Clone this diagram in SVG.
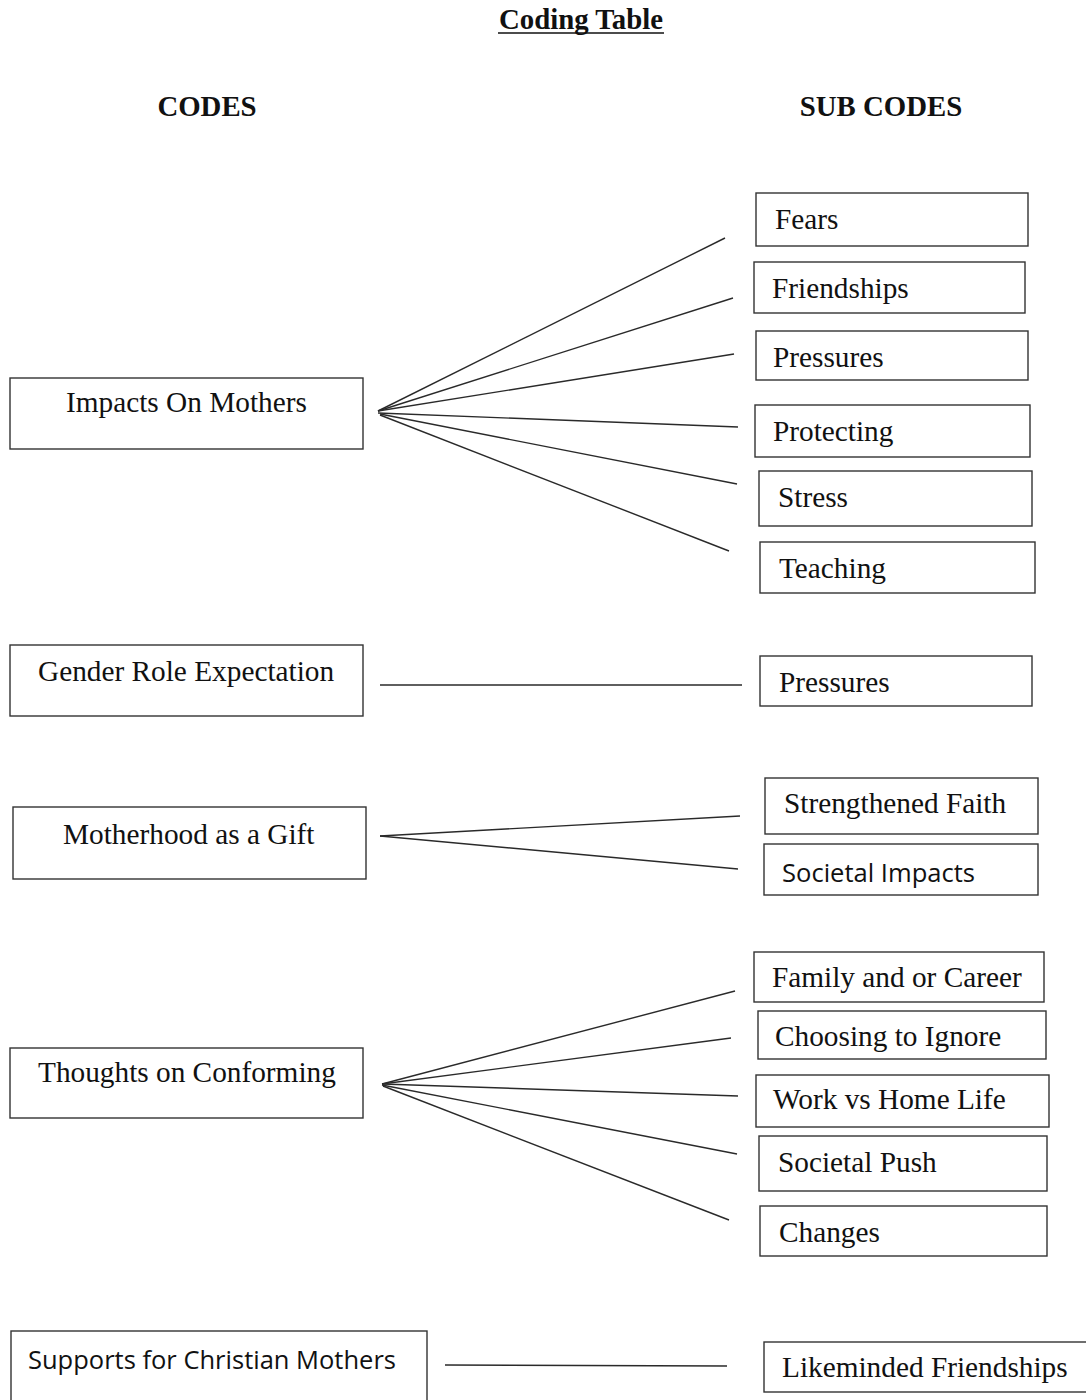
<svg xmlns="http://www.w3.org/2000/svg" width="1086" height="1400" viewBox="0 0 1086 1400">
<style>
.b{fill:#fff;stroke:#333;stroke-width:1.4}
.t{font-family:"Liberation Serif","Times New Roman",serif;font-size:29.3px;fill:#111}
.c{font-family:"Open Sans","Liberation Sans",sans-serif;font-size:25px;fill:#111}
.h{font-family:"Liberation Serif","Times New Roman",serif;font-size:28.8px;font-weight:bold;fill:#111}
#edges line{stroke:#2a2a2a;stroke-width:1.4}
</style>
<rect width="1086" height="1400" fill="#fff"/>
<text class="h" x="581" y="29" text-anchor="middle">Coding Table</text>
<line x1="498" y1="33" x2="664" y2="33" stroke="#111" stroke-width="1.6"/>
<text class="h" x="207" y="116" text-anchor="middle">CODES</text>
<text class="h" x="881" y="116" text-anchor="middle">SUB CODES</text>
<g id="edges">
<line x1="378" y1="411" x2="725" y2="238"/>
<line x1="378" y1="411" x2="733" y2="298"/>
<line x1="378" y1="411" x2="734" y2="354"/>
<line x1="378" y1="413" x2="738" y2="427"/>
<line x1="380" y1="414" x2="737" y2="484"/>
<line x1="380" y1="415" x2="729" y2="551"/>
<line x1="380" y1="685" x2="742" y2="685"/>
<line x1="380" y1="836" x2="740" y2="816"/>
<line x1="380" y1="836" x2="738" y2="869"/>
<line x1="382" y1="1084" x2="735" y2="991"/>
<line x1="382" y1="1084" x2="731" y2="1038"/>
<line x1="382" y1="1084" x2="738" y2="1096"/>
<line x1="382" y1="1085" x2="737" y2="1154"/>
<line x1="383" y1="1086" x2="729" y2="1220"/>
<line x1="445" y1="1365" x2="727" y2="1366"/>
</g>
<g id="n-impacts"><rect class="b" x="10" y="378" width="353" height="71"/><text class="t" x="66" y="412">Impacts On Mothers</text></g>
<g id="n-gender"><rect class="b" x="10" y="645" width="353" height="71"/><text class="t" x="38" y="681">Gender Role Expectation</text></g>
<g id="n-motherhood"><rect class="b" x="13" y="807" width="353" height="72"/><text class="t" x="63" y="844">Motherhood as a Gift</text></g>
<g id="n-thoughts"><rect class="b" x="10" y="1048" width="353" height="70"/><text class="t" x="38" y="1082">Thoughts on Conforming</text></g>
<g id="n-supports"><rect class="b" x="11" y="1331" width="416" height="90"/><text class="c" x="28" y="1369" textLength="368" lengthAdjust="spacingAndGlyphs">Supports for Christian Mothers</text></g>
<g id="s-fears"><rect class="b" x="756" y="193" width="272" height="53"/><text class="t" x="775" y="229">Fears</text></g>
<g id="s-friendships"><rect class="b" x="754" y="262" width="271" height="51"/><text class="t" x="772" y="298">Friendships</text></g>
<g id="s-pressures1"><rect class="b" x="756" y="331" width="272" height="49"/><text class="t" x="773" y="367">Pressures</text></g>
<g id="s-protecting"><rect class="b" x="755" y="405" width="275" height="52"/><text class="t" x="773" y="441">Protecting</text></g>
<g id="s-stress"><rect class="b" x="759" y="471" width="273" height="55"/><text class="t" x="778" y="507">Stress</text></g>
<g id="s-teaching"><rect class="b" x="760" y="542" width="275" height="51"/><text class="t" x="779" y="578">Teaching</text></g>
<g id="s-pressures2"><rect class="b" x="760" y="656" width="272" height="50"/><text class="t" x="779" y="692">Pressures</text></g>
<g id="s-faith"><rect class="b" x="765" y="778" width="273" height="56"/><text class="t" x="784" y="813">Strengthened Faith</text></g>
<g id="s-societal"><rect class="b" x="764" y="844" width="274" height="51"/><text class="c" x="782" y="882" textLength="193" lengthAdjust="spacingAndGlyphs">Societal Impacts</text></g>
<g id="s-family"><rect class="b" x="754" y="952" width="290" height="50"/><text class="t" x="772" y="987">Family and or Career</text></g>
<g id="s-choosing"><rect class="b" x="758" y="1011" width="288" height="48"/><text class="t" x="775" y="1046">Choosing to Ignore</text></g>
<g id="s-work"><rect class="b" x="756" y="1075" width="293" height="52"/><text class="t" x="773" y="1109">Work vs Home Life</text></g>
<g id="s-push"><rect class="b" x="759" y="1136" width="288" height="55"/><text class="t" x="778" y="1172">Societal Push</text></g>
<g id="s-changes"><rect class="b" x="760" y="1206" width="287" height="50"/><text class="t" x="779" y="1242">Changes</text></g>
<g id="s-likeminded"><rect class="b" x="764" y="1342" width="340" height="50"/><text class="t" x="782" y="1377">Likeminded Friendships</text></g>
</svg>
